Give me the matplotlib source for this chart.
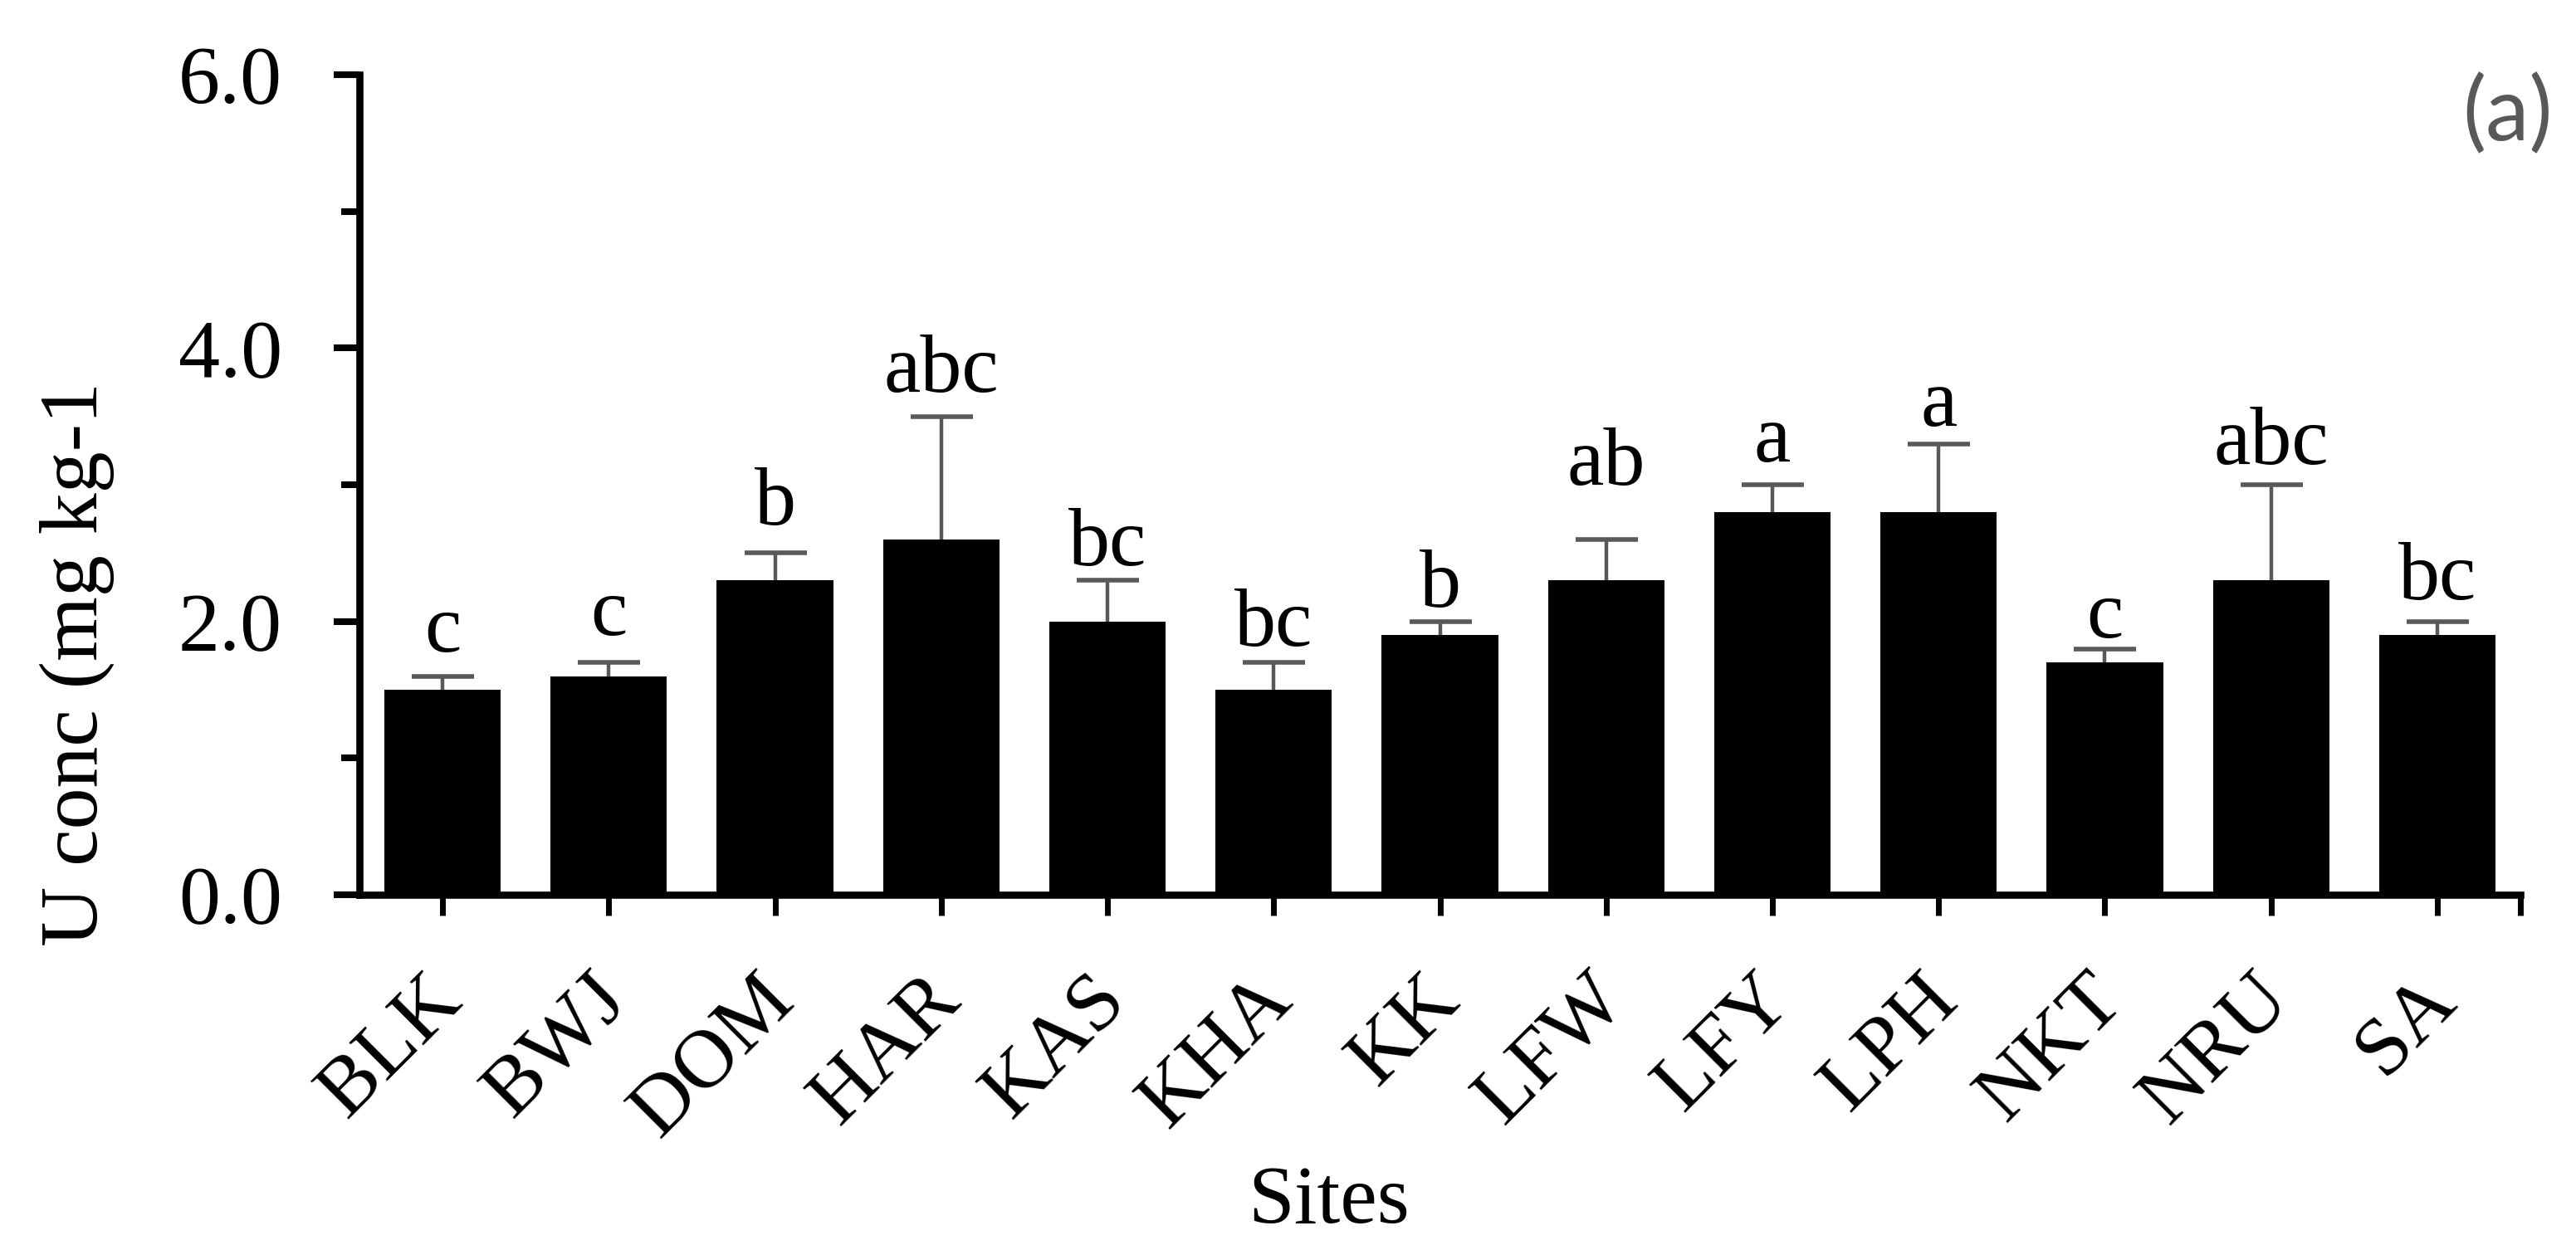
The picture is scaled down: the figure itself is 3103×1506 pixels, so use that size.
import matplotlib
matplotlib.use("Agg")
import matplotlib.pyplot as plt
import matplotlib.transforms as mtransforms
import numpy as np

sites = ["BLK", "BWJ", "DOM", "HAR", "KAS", "KHA", "KK", "LFW", "LFY", "LPH", "NKT", "NRU", "SA"]
u_conc = [1.5, 1.6, 2.3, 2.6, 2.0, 1.5, 1.9, 2.3, 2.8, 2.8, 1.7, 2.3, 1.9]
u_err = [0.1, 0.1, 0.2, 0.9, 0.3, 0.2, 0.1, 0.3, 0.2, 0.5, 0.1, 0.7, 0.1]
groups = ["c", "c", "b", "abc", "bc", "bc", "b", "ab", "a", "a", "c", "abc", "bc"]

# gap between cap and letter baseline, as placed in the original
letter_gap = [0.18, 0.2, 0.21, 0.18, 0.11, 0.12, 0.11, 0.4, 0.17, 0.13, 0.08, 0.15, 0.16]

plt.rcParams["font.family"] = "Liberation Serif"
plt.rcParams["font.size"] = 72

DPI = 100
fig = plt.figure(figsize=(31.03, 15.06), dpi=DPI)
ax = fig.add_axes([433 / 3103, 1 - 1078 / 1506, (3036 - 433) / 3103, (1078 - 90) / 1506])

x = np.arange(len(sites))
ax.bar(x, u_conc, width=0.7, color="black", zorder=2)

eb = ax.errorbar(x, u_conc, yerr=[np.zeros(len(u_err)), u_err], fmt="none",
                 ecolor="#595959", elinewidth=3.2, capsize=27, capthick=4.0, zorder=3)
eb[1][0].set_visible(False)

for xi, v, e, g, gap in zip(x, u_conc, u_err, groups, letter_gap):
    ax.text(xi, v + e + gap, g, ha="center", va="baseline", fontsize=72)

ax.set_xlim(-0.5, len(sites) - 0.5)
ax.set_ylim(0, 6)

ax.set_yticks([0, 2, 4, 6])
ax.set_yticklabels([f"{t:.1f}" for t in [0, 2, 4, 6]])
ax.set_yticks([1, 3, 5], minor=True)

for side in ["top", "right"]:
    ax.spines[side].set_visible(False)
for side in ["left", "bottom"]:
    ax.spines[side].set_linewidth(6.2)

ax.tick_params(axis="y", which="major", direction="out", length=22, width=5.8, pad=45)
ax.tick_params(axis="y", which="minor", direction="out", length=16, width=5.8)
ax.tick_params(axis="x", which="major", direction="out", length=18, width=5.0, pad=40)

ax.set_xticks(list(x) + [len(sites) - 0.5])
ax.set_xticklabels(sites + [""], rotation=45, ha="right", va="top")
# nudge rotated labels to the right, after tick_params (which resets transforms)
offset = mtransforms.ScaledTranslation(40 / DPI, 0, fig.dpi_scale_trans)
for lab in ax.get_xticklabels():
    lab.set_transform(lab.get_transform() + offset)

fig.text(93 / 3103, 1 - 800 / 1506, "U conc (mg kg-1", rotation=90, ha="center", va="center", fontsize=72)
fig.text(1601 / 3103, 1 - 1473 / 1506, "Sites", ha="center", va="baseline", fontsize=72)
fig.text(3021 / 3103, 1 - 138 / 1506, "(a)", ha="center", va="center", fontsize=76,
         color="#595959", family="Lato")

fig.savefig("out.png", dpi=DPI)
